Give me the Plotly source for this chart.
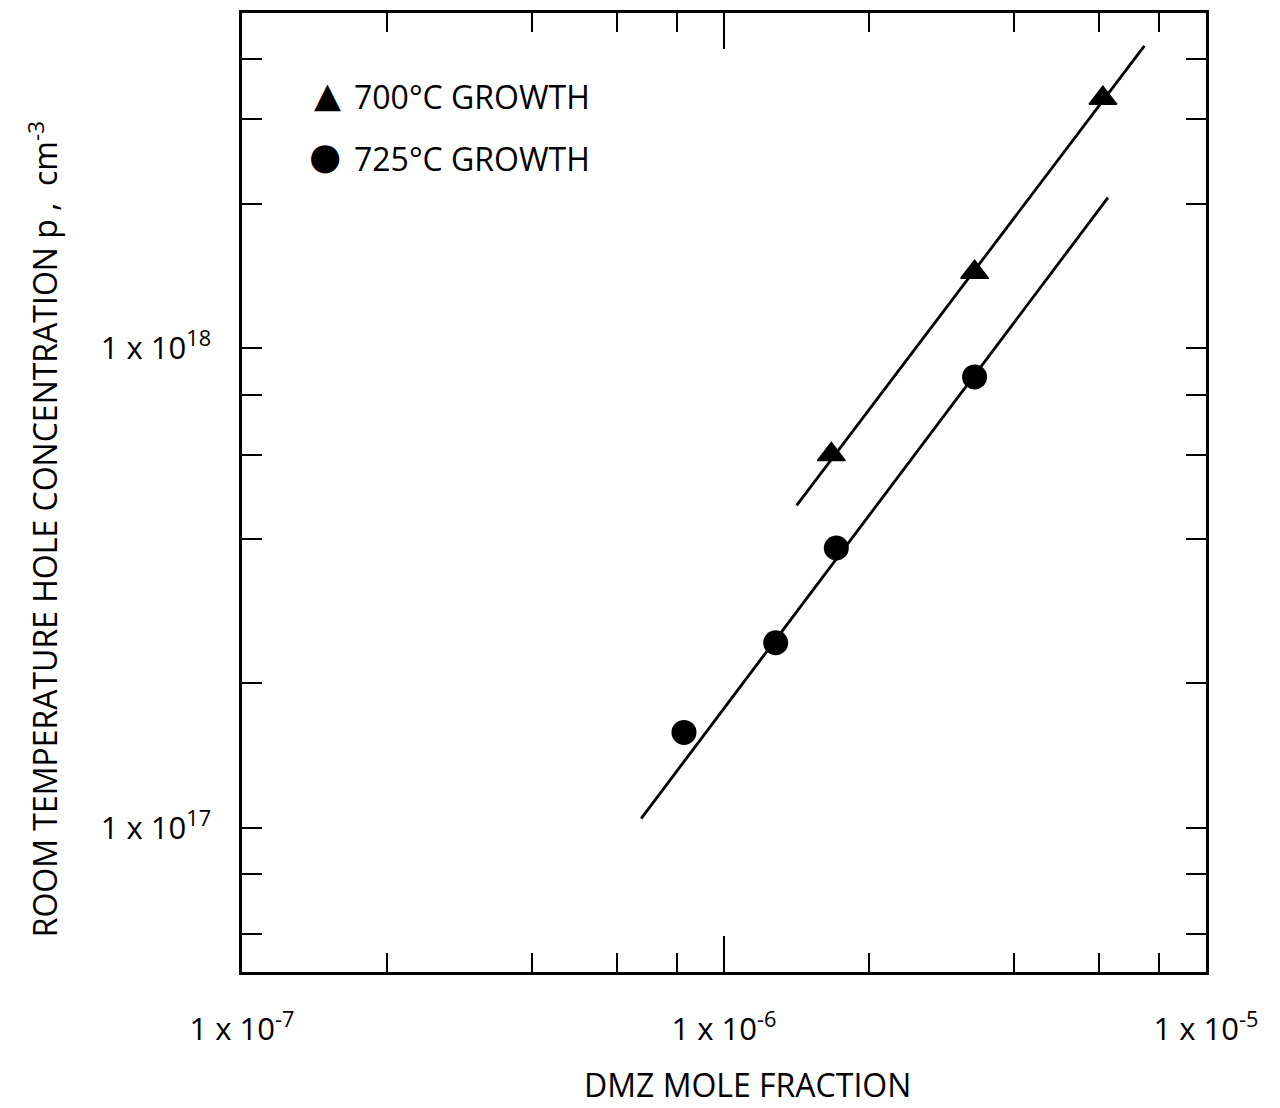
import plotly.graph_objects as go

# ---- data ----
tri_x = [1.67e-6, 3.31e-6, 6.11e-6]          # 700 C growth
tri_y = [6.0e17, 1.44e18, 3.32e18]
circ_x = [8.26e-7, 1.28e-6, 1.71e-6, 3.31e-6]  # 725 C growth
circ_y = [1.58e17, 2.43e17, 3.83e17, 8.71e17]
tri_fit_x = [1.415e-6, 7.45e-6]
tri_fit_y = [4.70e17, 4.27e18]
circ_fit_x = [6.73e-7, 6.26e-6]
circ_fit_y = [1.044e17, 2.06e18]

x_major = [1e-7, 1e-6, 1e-5]
x_major_text = ["1 x 10<sup>-7</sup>", "1 x 10<sup>-6</sup>", "1 x 10<sup>-5</sup>"]
x_minor = [2e-7, 4e-7, 6e-7, 8e-7, 2e-6, 4e-6, 6e-6, 8e-6]
y_major = [1e17, 1e18]
y_major_text = ["1 x 10<sup>17</sup>", "1 x 10<sup>18</sup>"]
y_minor = [6e16, 8e16, 2e17, 4e17, 6e17, 8e17, 2e18, 3e18, 4e18]

legend_names = ["700°C GROWTH", "725°C GROWTH"]
x_title = "DMZ MOLE FRACTION"
y_title = "ROOM TEMPERATURE HOLE CONCENTRATION p ,  cm<sup>-3</sup>"

FONT = "Open Sans"
ink = "black"

fig = go.Figure()
fig.add_trace(go.Scatter(x=tri_fit_x, y=tri_fit_y, mode="lines",
                         line=dict(color=ink, width=2.8), showlegend=False))
fig.add_trace(go.Scatter(x=circ_fit_x, y=circ_fit_y, mode="lines",
                         line=dict(color=ink, width=2.8), showlegend=False))
fig.add_trace(go.Scatter(x=tri_x, y=tri_y, mode="markers", name=legend_names[0],
                         marker=dict(symbol="triangle-up", size=24, color=ink,
                                     line=dict(color=ink, width=1.5)),
                         showlegend=False))
fig.add_trace(go.Scatter(x=circ_x, y=circ_y, mode="markers", name=legend_names[1],
                         marker=dict(symbol="circle", size=25, color=ink),
                         showlegend=False))

axis_common = dict(type="log", showline=True, linewidth=2.5, linecolor=ink,
                   mirror="ticks", ticks="inside", tickwidth=2, tickcolor=ink,
                   showgrid=False, zeroline=False,
                   tickfont=dict(family=FONT, size=31, color=ink))

fig.update_xaxes(**axis_common, range=[-7, -5], tickvals=x_major, ticktext=x_major_text,
                 ticklen=36, ticklabelstandoff=28,
                 minor=dict(tickvals=x_minor, ticks="inside", ticklen=19, tickwidth=2,
                            tickcolor=ink, showgrid=False))
fig.update_yaxes(**axis_common, range=[16.69897, 18.69897], tickvals=y_major,
                 ticktext=y_major_text, ticklen=20, ticklabelstandoff=22,
                 minor=dict(tickvals=y_minor, ticks="inside", ticklen=20, tickwidth=2,
                            tickcolor=ink, showgrid=False))

ann_font = dict(family=FONT, size=32, color=ink)
# legend drawn as text with symbol glyphs
fig.add_annotation(x=0.0882, y=0.9148, xref="paper", yref="paper", text="▲",
                   showarrow=False, font=dict(family="DejaVu Sans", size=35, color=ink),
                   xanchor="center", yanchor="middle")
fig.add_annotation(x=0.0861, y=0.8503, xref="paper", yref="paper", text="●",
                   showarrow=False, font=dict(family="DejaVu Sans", size=37, color=ink),
                   xanchor="center", yanchor="middle")
fig.add_annotation(x=0.1141, y=0.9127, xref="paper", yref="paper", text=legend_names[0],
                   showarrow=False, font=ann_font, xanchor="left", yanchor="middle")
fig.add_annotation(x=0.1141, y=0.8482, xref="paper", yref="paper", text=legend_names[1],
                   showarrow=False, font=ann_font, xanchor="left", yanchor="middle")
# axis titles
fig.add_annotation(x=0.524, y=-0.1175, xref="paper", yref="paper", text=x_title,
                   showarrow=False, font=ann_font, xanchor="center", yanchor="middle")
fig.add_annotation(x=-0.2065, y=0.4615, xref="paper", yref="paper", text=y_title,
                   showarrow=False, font=ann_font, textangle=-90,
                   xanchor="center", yanchor="middle")

# page body adds an 8 px margin, so the figure is 8 px smaller and margins compensate
fig.update_layout(width=1272, height=1100,
                  margin=dict(l=234, r=74, t=2, b=136, pad=0),
                  paper_bgcolor="white", plot_bgcolor="white",
                  font=dict(family=FONT, color=ink, size=31))

fig.write_html("out.html")
